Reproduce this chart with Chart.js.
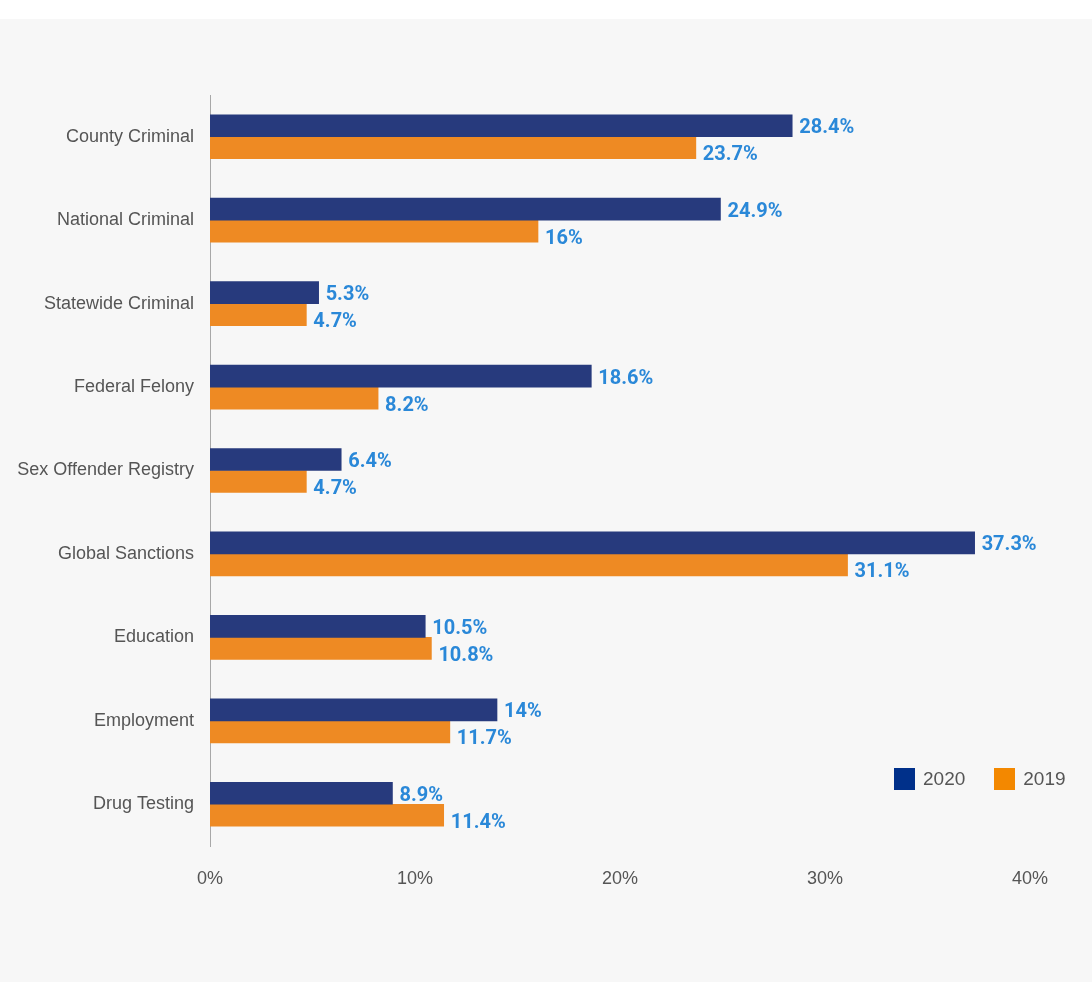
<!DOCTYPE html>
<html>
<head>
<meta charset="utf-8">
<script src="https://cdn.jsdelivr.net/npm/chart.js@4.4.1/dist/chart.umd.min.js"></script>
<style>
  html, body { margin: 0; padding: 0; background: #ffffff; }
  #wrap { position: absolute; left: 0; top: 19px; width: 1092px; height: 963px; background: #f7f7f7; }
  #legend { position: absolute; left: 894px; top: 749px; display: flex; font: 19px "Liberation Sans", Arial, sans-serif; color: #555; }
  #legend .item { display: flex; align-items: center; margin-right: 29px; }
  #legend .box { width: 21px; height: 22px; margin-right: 8px; }
</style>
</head>
<body>
<div id="wrap">
  <canvas id="chart" width="1092" height="963"></canvas>
  <div id="legend"></div>
</div>
<script>
// categories and values (percent)
const categories = ['County Criminal', 'National Criminal', 'Statewide Criminal', 'Federal Felony',
  'Sex Offender Registry', 'Global Sanctions', 'Education', 'Employment', 'Drug Testing'];
const values2020 = [28.4, 24.9, 5.3, 18.6, 6.4, 37.3, 10.5, 14, 8.9];
const values2019 = [23.7, 16, 4.7, 8.2, 4.7, 31.1, 10.8, 11.7, 11.4];
const seriesNames = ['2020', '2019'];
const barColors = ['#273a7d', '#ee8a23'];
const legendColors = ['#00308a', '#f38800'];

// draws the value labels at the end of each bar
const valueLabels = {
  id: 'valueLabels',
  afterDatasetsDraw(chart) {
    const ctx = chart.ctx;
    ctx.save();
    ctx.font = 'bold 20px Roboto';
    ctx.fillStyle = '#2a88d8';
    ctx.textBaseline = 'alphabetic';
    ctx.textAlign = 'left';
    chart.data.datasets.forEach((ds, di) => {
      const meta = chart.getDatasetMeta(di);
      meta.data.forEach((bar, i) => {
        const dy = di === 0 ? 7.5 : 12.5;
        ctx.fillText(ds.data[i] + '%', bar.x + 7, bar.y + dy);
      });
    });
    ctx.restore();
  }
};

const ctx = document.getElementById('chart').getContext('2d');
const chart = new Chart(ctx, {
  type: 'bar',
  data: {
    labels: categories,
    datasets: [
      { label: seriesNames[0], data: values2020, backgroundColor: barColors[0], barThickness: 22 },
      { label: seriesNames[1], data: values2019, backgroundColor: barColors[1], barThickness: 22 },
    ],
  },
  options: {
    indexAxis: 'y',
    responsive: false,
    animation: false,
    layout: { padding: { top: 76, right: 62, left: 0, bottom: 0 } },
    scales: {
      x: {
        min: 0,
        max: 40,
        grid: { display: false, drawTicks: false },
        border: { display: false },
        ticks: {
          stepSize: 10,
          padding: 22,
          color: '#555',
          font: { family: 'Liberation Sans', size: 18 },
          callback: v => v + '%',
        },
        afterFit: s => { s.height = 963 - 827; },
      },
      y: {
        grid: { display: false, drawTicks: false },
        border: { display: true, color: '#a8a8a8', width: 1 },
        ticks: {
          padding: 16,
          color: '#555',
          font: { family: 'Liberation Sans', size: 18 },
        },
        afterFit: s => { s.width = 210; },
      },
    },
    plugins: {
      legend: { display: false },
      tooltip: { enabled: false },
    },
  },
  plugins: [valueLabels],
});

// legend built from series names
const legend = document.getElementById('legend');
seriesNames.forEach((name, i) => {
  const item = document.createElement('div');
  item.className = 'item';
  item.innerHTML = '<span class="box" style="background:' + legendColors[i] + '"></span>' + name;
  legend.appendChild(item);
});
</script>
</body>
</html>
